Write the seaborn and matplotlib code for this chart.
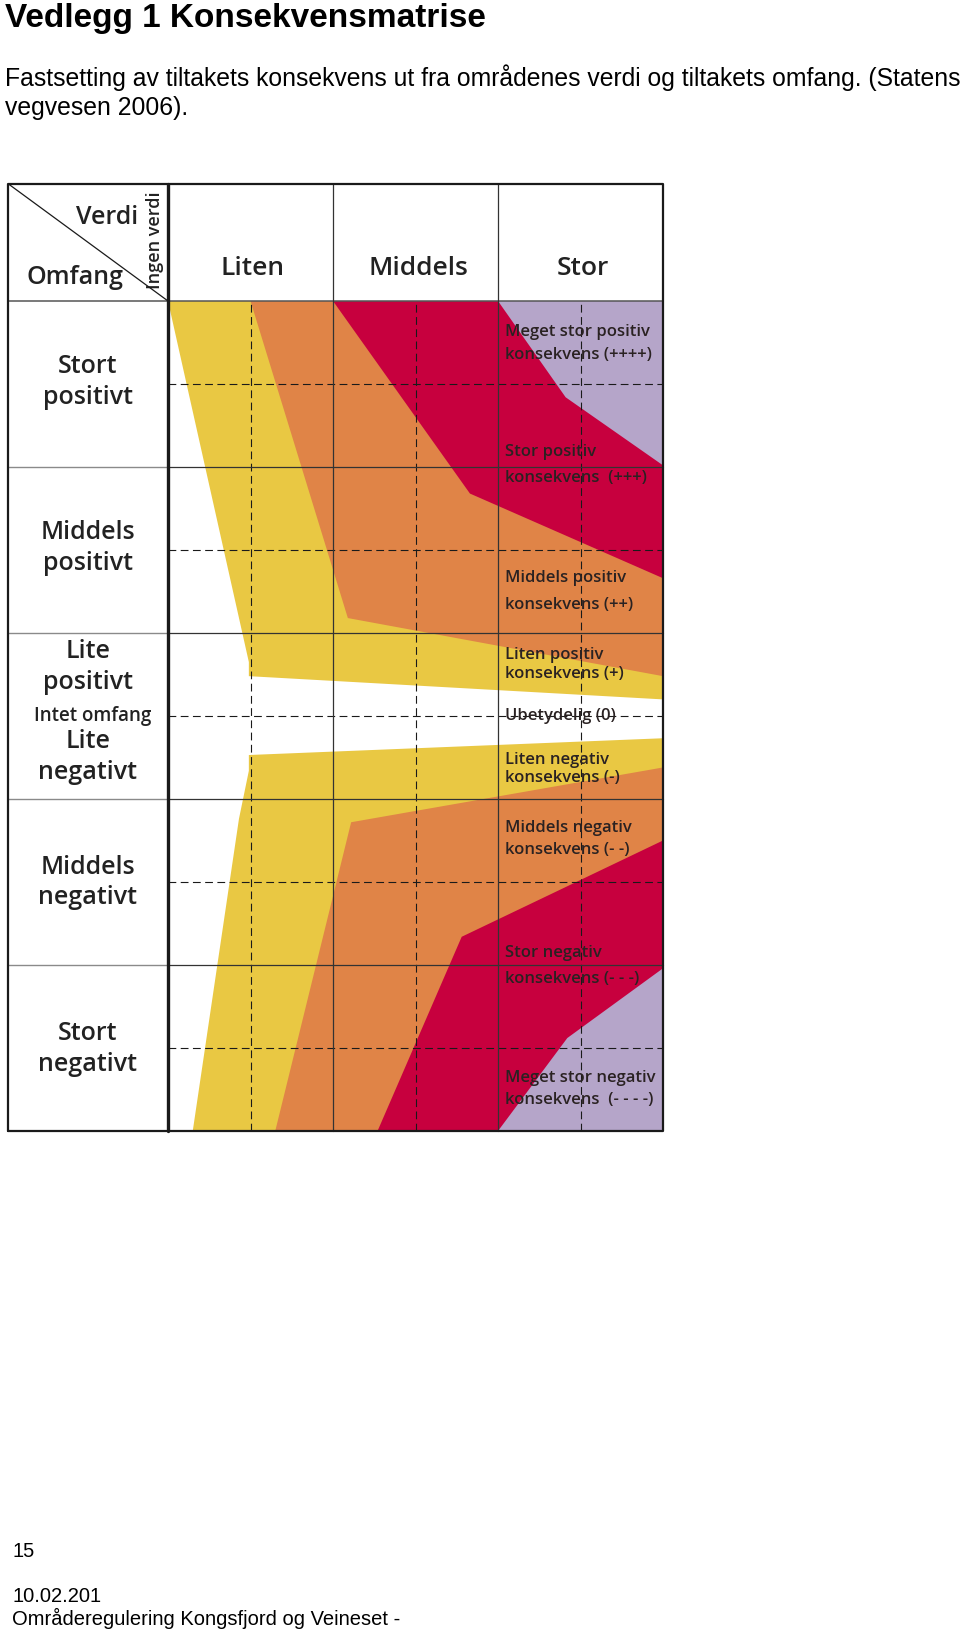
import matplotlib
matplotlib.use("Agg")
import matplotlib.pyplot as plt
import seaborn as sns

# --- data -------------------------------------------------------------
# x = verdi (0 = ingen verdi, 1 = liten, 2 = middels, 3 = stor)
# y = omfang (0 = intet omfang, +/-2.5 = stort positivt / negativt)
verdi = ["Liten", "Middels", "Stor"]
omfang = ["Stort\npositivt", "Middels\npositivt", "Lite\npositivt",
          "Lite\nnegativt", "Middels\nnegativt", "Stort\nnegativt"]
omfang_y = [2.01, 1.01, 0.295, -0.247, -1.003, -2.006]

# band outlines
yellow_pos_x = [0.0, 3.0, 3.0, 0.49, 0.49, 0.41]
yellow_pos_y = [2.5, 2.5, 0.10, 0.24, 0.325, 0.68]
orange_pos_x = [0.50, 3.0, 3.0, 1.09]
orange_pos_y = [2.5, 2.5, 0.24, 0.59]
red_pos_x = [1.0, 3.0, 3.0, 1.83]
red_pos_y = [2.5, 2.5, 0.83, 1.34]
purple_pos_x = [2.0, 3.0, 3.0, 2.41]
purple_pos_y = [2.5, 2.5, 1.51, 1.92]

yellow_neg_x = [0.49, 3.0, 3.0, 0.15, 0.43, 0.49]
yellow_neg_y = [-0.235, -0.134, -2.5, -2.5, -0.62, -0.33]
orange_neg_x = [1.11, 3.0, 3.0, 0.65]
orange_neg_y = [-0.64, -0.31, -2.5, -2.5]
red_neg_x = [1.78, 3.0, 3.0, 1.27]
red_neg_y = [-1.33, -0.75, -2.5, -2.5]
purple_neg_x = [2.42, 3.0, 3.0, 2.0]
purple_neg_y = [-1.94, -1.52, -2.5, -2.5]

konsekvens_lines = ["Meget stor positiv", "konsekvens (++++)",
                    "Stor positiv", "konsekvens  (+++)",
                    "Middels positiv", "konsekvens (++)",
                    "Liten positiv", "konsekvens (+)",
                    "Ubetydelig (0)",
                    "Liten negativ", "konsekvens (-)",
                    "Middels negativ", "konsekvens (- -)",
                    "Stor negativ", "konsekvens (- - -)",
                    "Meget stor negativ", "konsekvens  (- - - -)"]
konsekvens_y = [2.313, 2.175, 1.59, 1.434, 0.831, 0.669, 0.367, 0.253, 0.0,
                -0.265, -0.373, -0.675, -0.807, -1.428, -1.584, -2.181, -2.313]

YELLOW = "#E9C843"
ORANGE = "#E08447"
RED = "#C7003E"
PURPLE = "#B5A5C9"

sns.set_theme(style="white")
plt.rcParams['font.family'] = ['Open Sans', 'DejaVu Sans']

W, H = 960, 1639
fig = plt.figure(figsize=(W / 100, H / 100), dpi=100)

# pixel mapping of the matrix
x0_px, col_px = 168, 165
y0_px, row_px = 716, 166
xlim = (-1.0, 3.03)
ylim = (-2.53, 3.24)
left = x0_px + xlim[0] * col_px
right = x0_px + xlim[1] * col_px
top = y0_px - ylim[1] * row_px
bottom = y0_px - ylim[0] * row_px
ax = fig.add_axes([left / W, 1 - bottom / H, (right - left) / W, (bottom - top) / H])
ax.set_xlim(*xlim)
ax.set_ylim(*ylim)
ax.axis("off")

# colour bands
for xs, ys, c in [(yellow_pos_x, yellow_pos_y, YELLOW), (orange_pos_x, orange_pos_y, ORANGE),
                  (red_pos_x, red_pos_y, RED), (purple_pos_x, purple_pos_y, PURPLE),
                  (yellow_neg_x, yellow_neg_y, YELLOW), (orange_neg_x, orange_neg_y, ORANGE),
                  (red_neg_x, red_neg_y, RED), (purple_neg_x, purple_neg_y, PURPLE)]:
    ax.fill(xs, ys, color=c, lw=0, zorder=1)

LX, TOP = -0.967, 3.205
# dashed grid
for xv in [0.5, 1.5, 2.5]:
    ax.plot([xv, xv], [-2.5, 2.5], color="#1a1a1a", lw=0.8, ls=(0, (7, 4)), zorder=3)
for yv in [2, 1, 0, -1, -2]:
    ax.plot([0, 3], [yv, yv], color="#1a1a1a", lw=0.8, ls=(0, (7, 4)), zorder=3)
# solid grid
for yv in [1.5, 0.5, -0.5, -1.5]:
    ax.plot([LX, 0], [yv, yv], color="#8a8a8a", lw=1.0, zorder=3)
    ax.plot([0, 3], [yv, yv], color="#333333", lw=0.9, zorder=3)
ax.plot([LX, 3], [2.5, 2.5], color="#555555", lw=1.1, zorder=3)
for xv in [1, 2]:
    ax.plot([xv, xv], [-2.5, TOP], color="#333333", lw=0.9, zorder=3)
ax.plot([0, 0], [-2.5, TOP], color="#1a1a1a", lw=2.4, zorder=4)
ax.plot([LX, 3, 3, LX, LX], [-2.5, -2.5, TOP, TOP, -2.5], color="#1a1a1a", lw=1.6, zorder=4)
ax.plot([LX, 0], [TOP, 2.5], color="#1a1a1a", lw=0.9, zorder=4)

# header
txt = "#222222"
for i, v in enumerate(verdi):
    ax.text(i + 0.515, 2.693, v, ha="center", va="center", fontsize=19, color=txt, weight="semibold")
ax.text(-0.37, 3.006, "Verdi", ha="center", va="center", fontsize=18, color=txt, weight="semibold")
ax.text(-0.564, 2.639, "Omfang", ha="center", va="center", fontsize=18, color=txt, weight="semibold")
ax.text(-0.079, 2.867, "Ingen verdi", ha="center", va="center", rotation=90, fontsize=13,
        color=txt, weight="semibold")

# omfang labels
for lab, yv in zip(omfang, omfang_y):
    ax.text(-0.485, yv, lab, ha="center", va="center", fontsize=18, color=txt,
            weight="semibold", linespacing=1.3)
ax.text(-0.455, 0.0, "Intet omfang", ha="center", va="center", fontsize=13.5, color=txt, weight="semibold")

# konsekvens labels
for lab, yv in zip(konsekvens_lines, konsekvens_y):
    ax.text(2.04, yv, lab, ha="left", va="center", fontsize=12, color="#2a2222",
            weight="semibold", zorder=5)

# page text
def ptext(x, y, s, **kw):
    fig.text(x / W, 1 - y / H, s, va="baseline", color="black",
             family=["Liberation Sans", "DejaVu Sans"], **kw)

ptext(5, 27, "Vedlegg 1 Konsekvensmatrise", fontsize=24, weight="bold")
ptext(5, 86, "Fastsetting av tiltakets konsekvens ut fra områdenes verdi og tiltakets omfang. (Statens",
      fontsize=17.8)
ptext(5, 115, "vegvesen 2006).", fontsize=17.8)
ptext(12, 1557, "15", fontsize=14.5)
ptext(12, 1602, "10.02.201", fontsize=14.5)
ptext(12, 1625, "Områderegulering Kongsfjord og Veineset -", fontsize=14.5)

fig.savefig("out.png", dpi=100)
